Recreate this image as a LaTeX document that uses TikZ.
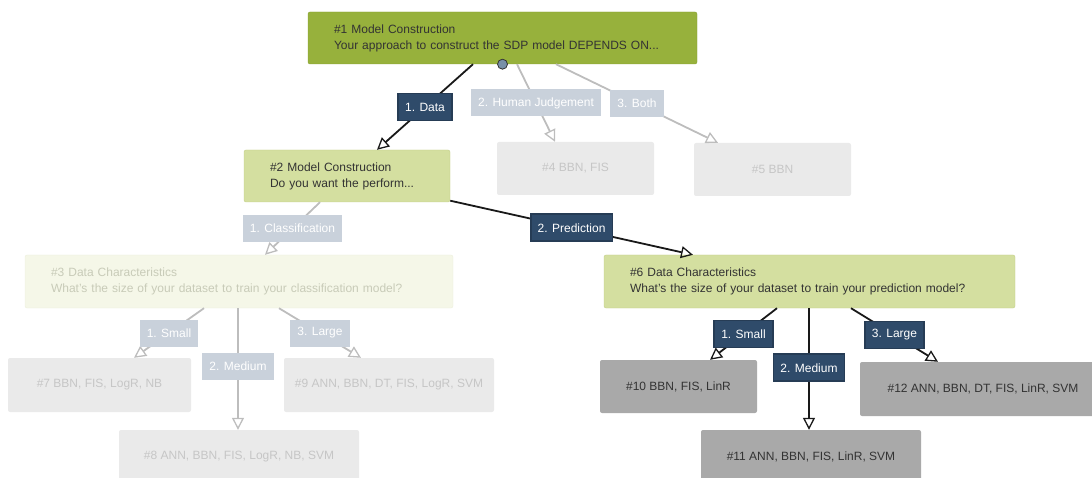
\documentclass[tikz,border=0pt]{standalone}
\usepackage{fontspec}
\setmainfont{Liberation Sans}
\usetikzlibrary{arrows.meta}
\definecolor{olive1}{HTML}{97B13C}
\definecolor{olive1d}{HTML}{86A032}
\definecolor{olive2}{HTML}{D4DFA0}
\definecolor{olive2d}{HTML}{C3CF88}
\definecolor{olive3}{HTML}{F5F7E8}
\definecolor{olive3d}{HTML}{ECEFDC}
\definecolor{fadebox}{HTML}{EAEAEA}
\definecolor{fadetext}{HTML}{C6C6C6}
\definecolor{fadetext3}{HTML}{C8CBB8}
\definecolor{darkbox}{HTML}{A9A9A9}
\definecolor{darktext}{HTML}{333333}
\definecolor{labdark}{HTML}{2F4B6A}
\definecolor{lablight}{HTML}{C9D1DB}
\definecolor{edgelight}{HTML}{BDBDBD}
\definecolor{dotfill}{HTML}{7890A8}
\tikzset{
  base/.style={rounded corners=2pt, font=\fontsize{12}{16}\selectfont, inner ysep=0pt},
  qbox/.style={base, align=left, inner xsep=26pt},
  q1/.style={qbox, fill=olive1, draw=olive1d, text=darktext},
  q2/.style={qbox, fill=olive2, draw=olive2d, text=darktext},
  q3/.style={qbox, fill=olive3, draw=olive3d, text=fadetext3},
  fbox/.style={base, fill=fadebox, text=fadetext},
  dbox/.style={base, fill=darkbox, text=darktext},
  lab/.style={font=\fontsize{12}{14}\selectfont, inner xsep=7pt, inner ysep=0pt, minimum height=27pt, text=white},
  labd/.style={lab, fill=labdark, draw=labdark!80!black},
  labl/.style={lab, fill=lablight},
  edged/.style={draw=black!90, line width=1.8pt, -{Triangle[open, length=12pt, width=12pt, line width=1.3pt]}},
  edgel/.style={draw=edgelight, line width=1.8pt, -{Triangle[open, length=12pt, width=12pt, line width=1.3pt]}},
}
\begin{document}
\begin{tikzpicture}[x=1pt, y=-1pt]
\useasboundingbox (0,0) rectangle (1092,478);
% question nodes
\node[q1, text width=337pt, minimum height=52pt] (n1) at (502.5,38) {\#1 Model Construction\\Your approach to construct the SDP model DEPENDS ON...};
\node[q2, text width=154pt, minimum height=52pt] (n2) at (347,176) {\#2 Model Construction\\Do you want the perform...};
\node[q3, text width=376pt, minimum height=53pt] (n3) at (239,281.5) {\#3 Data Characteristics\\What's the size of your dataset to train your classification model?};
\node[q2, text width=359pt, minimum height=53pt] (n6) at (809.5,281.5) {\#6 Data Characteristics\\What's the size of your dataset to train your prediction model?};
% answer nodes
\node[fbox, minimum width=157pt, minimum height=53pt] (n4) at (575.5,168.5) {\#4 BBN, FIS};
\node[fbox, minimum width=157pt, minimum height=53pt] (n5) at (772.5,169.5) {\#5 BBN};
\node[fbox, minimum width=183pt, minimum height=54pt] (n7) at (99.5,385) {\#7 BBN, FIS, LogR, NB};
\node[fbox, minimum width=240pt, minimum height=54pt] (n8) at (239,457) {\#8 ANN, BBN, FIS, LogR, NB, SVM};
\node[fbox, minimum width=210pt, minimum height=54pt] (n9) at (389,385) {\#9 ANN, BBN, DT, FIS, LogR, SVM};
\node[dbox, minimum width=157pt, minimum height=53pt] (n10) at (678.5,386.5) {\#10 BBN, FIS, LinR};
\node[dbox, minimum width=220pt, minimum height=54pt] (n11) at (811,457) {\#11 ANN, BBN, FIS, LinR, SVM};
\node[dbox, minimum width=246pt, minimum height=54pt] (n12) at (983,389) {\#12 ANN, BBN, DT, FIS, LinR, SVM};
% edges
\draw[edged] ([xshift=-29.5pt]n1.south) -- node[labd] (l1) {1. Data} ([xshift=30pt]n2.north);
\draw[edgel] ([xshift=14.5pt]n1.south) -- node[labl] (l2) {2. Human Judgement} ([xshift=-20.5pt]n4.north);
\draw[edgel] ([xshift=53.5pt]n1.south) -- node[labl] (l3) {3. Both} ([xshift=-54.5pt]n5.north);
\draw[edgel] ([xshift=-27pt]n2.south) -- node[labl] (l4) {1. Classification} ([xshift=26pt]n3.north);
\draw[edged] ([yshift=1.5pt]n2.south east) -- node[labd] (l5) {2. Prediction} ([xshift=-116.5pt]n6.north);
\draw[edgel] ([xshift=-35pt]n3.south) -- node[labl] (l6) {1. Small} ([xshift=34.5pt]n7.north);
\draw[edgel] ([xshift=-1pt]n3.south) -- node[labl, pos=0.48] (l7) {2. Medium} ([xshift=-1pt]n8.north);
\draw[edgel] ([xshift=40pt]n3.south) -- node[labl] (l8) {3. Large} ([xshift=-28pt]n9.north);
\draw[edged] ([xshift=-32.5pt]n6.south) -- node[labd] (l9) {1. Small} ([xshift=31.5pt]n10.north);
\draw[edged] ([xshift=-0.5pt]n6.south) -- node[labd, pos=0.49] (l10) {2. Medium} ([xshift=-2pt]n11.north);
\draw[edged] ([xshift=41.5pt]n6.south) -- node[labd] (l11) {3. Large} ([xshift=-45pt]n12.north);
% dot on #1
\node[circle, fill=dotfill, draw=darktext, line width=0.8pt, minimum size=10pt, inner sep=0pt] (dot) at (n1.south) {};
\end{tikzpicture}
\end{document}
